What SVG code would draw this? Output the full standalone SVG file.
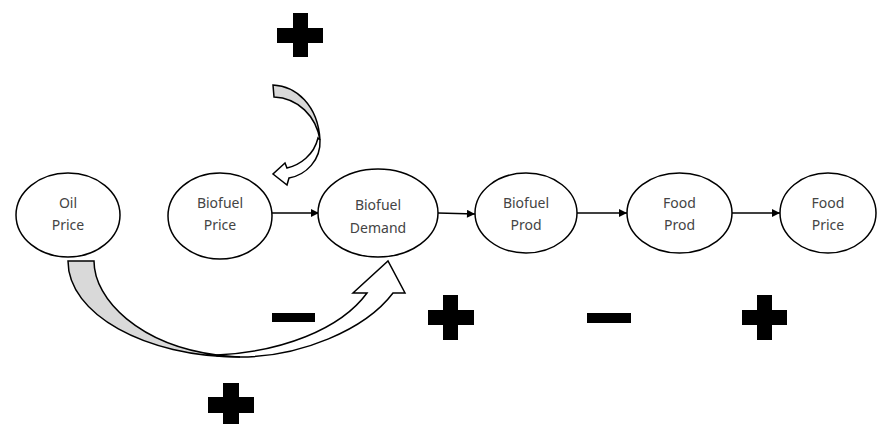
<svg xmlns="http://www.w3.org/2000/svg" width="879" height="424" viewBox="0 0 879 424">
<defs>
<style>
.node ellipse{fill:#fff;stroke:#000;stroke-width:1.5}
.node text{font-family:"Noto Sans","DejaVu Sans",sans-serif;font-size:14px;fill:#444;text-anchor:middle}
.conn line{stroke:#000;stroke-width:1.6}
.band{stroke:#000;stroke-width:1.5;stroke-linejoin:miter}
.sign{fill:#000}
</style>
<marker id="ah" viewBox="0 0 10 10" refX="10" refY="5" markerWidth="9" markerHeight="8" markerUnits="userSpaceOnUse" orient="auto">
<path d="M0,0 L10,5 L0,10 Z" fill="#000"/>
</marker>
</defs>
<rect width="879" height="424" fill="#fff"/>

<g id="connectors" class="conn">
<line x1="272" y1="213" x2="319" y2="213" marker-end="url(#ah)"/>
<line x1="438" y1="213" x2="475" y2="214" marker-end="url(#ah)"/>
<line x1="577" y1="213" x2="627" y2="213" marker-end="url(#ah)"/>
<line x1="732" y1="213" x2="780" y2="213" marker-end="url(#ah)"/>
</g>

<g id="oil-arrow">
<path class="band" fill="#fff" d="M217,355 C280,352 340,330 367,293 L353,293 L388,261 L405,293 L393,293 C365,330 300,357 240,357 L217,356 Z"/>
<path class="band" fill="#d9d9d9" d="M68,261 L94,261 C94,300 140,345 217,355 C225,356 232,357 240,357 C145,357 68,314 68,261 Z"/>
</g>

<g id="price-arrow">
<path class="band" fill="#fff" d="M320,140 C321,160 306,175 289,178 L287,185 L273,174 L285,163 L287,168 C300,165 314,155 318,138 Z"/>
<path class="band" fill="#d9d9d9" d="M273,85 C296,86 318,105 320,140 C316,116 298,98 274,97 Z"/>
</g>

<g id="oil-price" class="node">
<ellipse cx="68" cy="215" rx="52" ry="42"/>
<text x="68" y="208">Oil</text>
<text x="68" y="230">Price</text>
</g>
<g id="biofuel-price" class="node">
<ellipse cx="220" cy="216" rx="52" ry="43"/>
<text x="220" y="208">Biofuel</text>
<text x="220" y="230">Price</text>
</g>
<g id="biofuel-demand" class="node">
<ellipse cx="378" cy="213" rx="60" ry="44"/>
<text x="378" y="210">Biofuel</text>
<text x="378" y="233">Demand</text>
</g>
<g id="biofuel-prod" class="node">
<ellipse cx="526" cy="213" rx="51" ry="40"/>
<text x="526" y="208">Biofuel</text>
<text x="526" y="230">Prod</text>
</g>
<g id="food-prod" class="node">
<ellipse cx="679.5" cy="213" rx="52.5" ry="40"/>
<text x="679.5" y="208">Food</text>
<text x="679.5" y="230">Prod</text>
</g>
<g id="food-price" class="node">
<ellipse cx="828" cy="213" rx="48" ry="40"/>
<text x="828" y="208">Food</text>
<text x="828" y="230">Price</text>
</g>

<g id="signs" class="sign">
<path d="M293,13 H308 V28 H323 V43 H308 V57 H293 V43 H277 V28 H293 Z"/>
<path d="M443,295 H458 V310 H474 V325 H458 V340 H443 V325 H428 V310 H443 Z"/>
<path d="M757,295 H772 V310 H787 V325 H772 V340 H757 V325 H742 V310 H757 Z"/>
<path d="M223,383 H239 V397 H254 V413 H239 V430 H223 V413 H208 V397 H223 Z"/>
<rect x="272" y="313" width="43" height="9"/>
<rect x="587" y="313" width="44" height="10"/>
</g>
</svg>
